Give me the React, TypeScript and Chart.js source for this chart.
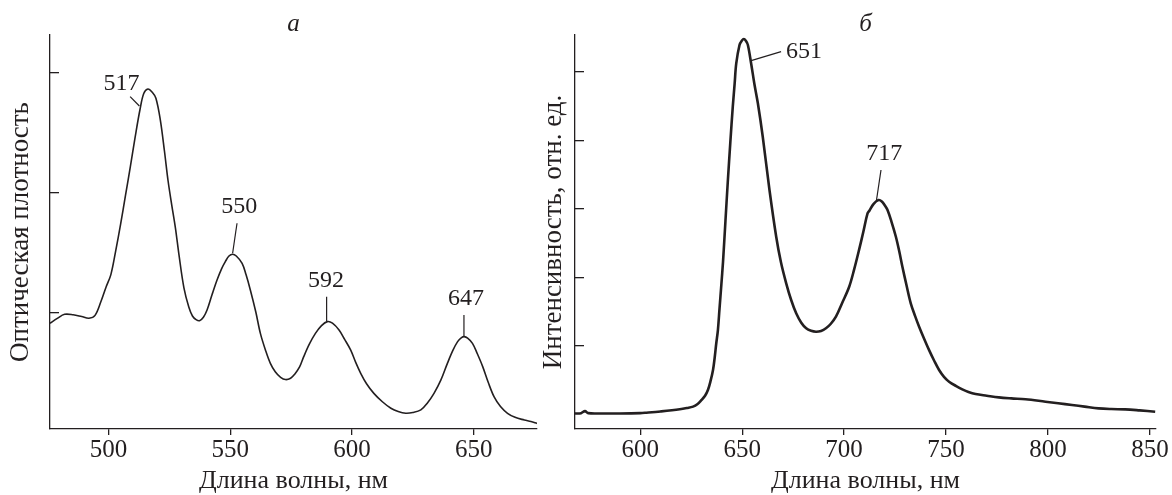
import { useEffect, useRef } from "react";
import { Chart, registerables } from "chart.js";

Chart.register(...registerables);

const INK = "#231f20";
const FONT = "'Liberation Serif', 'Times New Roman', Times, serif";

// ---- Panel a: absorption spectrum ----
const absWavelength = [
  476, 479, 482, 485.5, 489, 492, 494.5, 497, 499, 501, 503, 505, 507, 509, 511, 513, 514.5, 516.2, 518, 519.5,
  521.3, 523, 524.5, 526, 527.5, 529, 531, 533, 534.5, 536, 537.4, 539, 540.5, 542.5, 544.6, 546.5, 548, 549.5,
  551, 552.5, 554.9, 556.5, 558.3, 560.5, 562.4, 564.5, 566.5, 568.5, 570.7, 572.7, 574.8, 576.5, 578.5, 580.2,
  582.5, 585, 587.5, 589.9, 592, 594.7, 597, 599.5, 601.5, 603.6, 606, 609, 612.5, 616, 619, 622.1, 625, 628.3,
  631, 633.7, 636.5, 639.2, 641.5, 643.4, 645, 646.1, 647.5, 649.5, 651.5, 653.7, 656, 658.4, 661, 663.9, 667,
  670.8, 673.5, 676,
];
const absDensity = [
  0.2914, 0.2955, 0.2989, 0.2985, 0.297, 0.2956, 0.298, 0.31, 0.3215, 0.332, 0.352, 0.374, 0.398, 0.422, 0.447,
  0.47, 0.483, 0.4867, 0.484, 0.479, 0.461, 0.435, 0.41, 0.39, 0.371, 0.348, 0.321, 0.305, 0.2975, 0.2945, 0.2936,
  0.2965, 0.3025, 0.315, 0.3275, 0.337, 0.3428, 0.3475, 0.349, 0.3475, 0.3414, 0.332, 0.319, 0.301, 0.283, 0.269,
  0.258, 0.251, 0.2464, 0.2445, 0.2456, 0.249, 0.255, 0.2636, 0.274, 0.283, 0.2895, 0.2928, 0.2915, 0.2858,
  0.278, 0.269, 0.259, 0.2497, 0.241, 0.233, 0.226, 0.2206, 0.2178, 0.2164, 0.217, 0.2192, 0.225, 0.233, 0.244,
  0.258, 0.269, 0.2761, 0.2795, 0.2803, 0.279, 0.2747, 0.266, 0.2553, 0.242, 0.23, 0.222, 0.2164, 0.213, 0.2108,
  0.2095, 0.208,
];
const absXTicks = [500, 550, 600, 650];
const absYTicks = [0.3, 0.4, 0.5];
const absPeakLabels = ["517", "550", "592", "647"];
const absLabelX = [505.4, 553.7, 589.3, 646.8];
const absLabelY = [0.4913, 0.3883, 0.3267, 0.3119];
const absLeaderX1 = [508.9, 552.8, 589.6, 646];
const absLeaderY1 = [0.4803, 0.3748, 0.3136, 0.2983];
const absLeaderX2 = [512.7, 551, 589.6, 646];
const absLeaderY2 = [0.4725, 0.3498, 0.2928, 0.2803];

// ---- Panel б: luminescence spectrum ----
const lumWavelength = [
  568, 571, 572.9, 574.5, 580, 590, 600, 603, 610, 619.4, 623, 625.9, 628, 630, 631.8, 633.2, 634.5, 635.7, 636.5,
  637.3, 638.1, 638.9, 639.8, 640.6, 641.8, 643, 644.2, 645.4, 646.3, 647.1, 648.7, 649.8, 650.8, 651.8, 652.8,
  654.4, 656, 657.7, 660.1, 663.4, 666.7, 669, 671.6, 674, 676.5, 679, 681.4, 683.8, 686.2, 688.7, 691.1, 693.5,
  696, 699, 702.5, 705, 707.4, 709.5, 711.5, 712.4, 714.5, 716.9, 718.5, 720, 721.3, 723.3, 725.4, 727, 728.6,
  730.7, 732.7, 734.8, 736.8, 739.2, 741.7, 744.2, 746.6, 749, 751.5, 755, 758, 761, 764.5, 770, 775.9, 782, 789,
  798.8, 805, 811.8, 818, 824.8, 831, 837.9, 845, 852.6,
];
const lumIntensity = [
  0.003, 0.004, 0.01, 0.004, 0.003, 0.003, 0.004, 0.0053, 0.009, 0.0152, 0.019, 0.023, 0.03, 0.042, 0.055, 0.0715,
  0.098, 0.13, 0.165, 0.208, 0.2467, 0.31, 0.38, 0.445, 0.565, 0.6847, 0.795, 0.8987, 0.965, 1.025, 1.079, 1.091,
  1.0964, 1.091, 1.079, 1.025, 0.965, 0.9086, 0.811, 0.6555, 0.519, 0.445, 0.383, 0.335, 0.2955, 0.268, 0.2517,
  0.2445, 0.2418, 0.244, 0.2517, 0.265, 0.2856, 0.325, 0.373, 0.425, 0.482, 0.535, 0.587, 0.595, 0.615, 0.626,
  0.622, 0.61, 0.597, 0.562, 0.519, 0.478, 0.4315, 0.375, 0.3247, 0.288, 0.2564, 0.222, 0.188, 0.157, 0.13, 0.11,
  0.0958, 0.083, 0.0736, 0.066, 0.06, 0.055, 0.05, 0.047, 0.0444, 0.0374, 0.033, 0.0277, 0.023, 0.018, 0.016,
  0.015, 0.012, 0.0082,
];
const lumXTicks = [600, 650, 700, 750, 800, 850];
const lumYTicks = [0.2, 0.4, 0.6, 0.8, 1.0];
const lumPeakLabels = ["651", "717"];
const lumLabelX = [680.3, 719.7];
const lumLabelY = [1.0584, 0.7606];
const lumLeaderX1 = [669.1, 718.1];
const lumLeaderY1 = [1.0593, 0.7139];
const lumLeaderX2 = [654.4, 715.9];
const lumLeaderY2 = [1.033, 0.6263];

type PanelProps = {
  left: number;
  width: number;
  xs: number[];
  ys: number[];
  lineWidth: number;
  xMin: number;
  xMax: number;
  yMin: number;
  yMax: number;
  xTicks: number[];
  yTicks: number[];
  letter: string;
  yTitle: string;
  yWidth: number;
  yTitlePad: number;
  padRight: number;
  labels: string[];
  labelX: number[];
  labelY: number[];
  lx1: number[];
  ly1: number[];
  lx2: number[];
  ly2: number[];
};

function Panel(p: PanelProps) {
  const ref = useRef<HTMLCanvasElement>(null);
  useEffect(() => {
    const notes = {
      id: "peakNotes",
      afterDatasetsDraw(chart: any) {
        const { ctx } = chart;
        const x = chart.scales.x;
        const y = chart.scales.y;
        ctx.save();
        ctx.strokeStyle = INK;
        ctx.fillStyle = INK;
        ctx.lineWidth = 1.2;
        ctx.font = `24px ${FONT}`;
        ctx.textAlign = "center";
        ctx.textBaseline = "middle";
        p.labels.forEach((t, i) => {
          ctx.beginPath();
          ctx.moveTo(x.getPixelForValue(p.lx1[i]), y.getPixelForValue(p.ly1[i]));
          ctx.lineTo(x.getPixelForValue(p.lx2[i]), y.getPixelForValue(p.ly2[i]));
          ctx.stroke();
          ctx.fillText(t, x.getPixelForValue(p.labelX[i]), y.getPixelForValue(p.labelY[i]));
        });
        ctx.restore();
      },
    };
    const chart = new Chart(ref.current as HTMLCanvasElement, {
      type: "line",
      data: {
        datasets: [
          {
            data: p.xs.map((x, i) => ({ x, y: p.ys[i] })),
            borderColor: INK,
            borderWidth: p.lineWidth,
            pointRadius: 0,
            tension: 0.35,
            fill: false,
          },
        ],
      },
      options: {
        animation: false,
        responsive: false,
        devicePixelRatio: 1,
        layout: { padding: { left: 0, right: p.padRight, top: 10, bottom: 0 } },
        plugins: {
          legend: { display: false },
          tooltip: { enabled: false },
          title: {
            display: true,
            text: p.letter,
            fullSize: false,
            color: INK,
            font: { family: FONT, size: 25, style: "italic", weight: "normal", lineHeight: 1 },
            padding: { top: 1.5, bottom: -1.5 },
          },
        },
        scales: {
          x: {
            type: "linear",
            min: p.xMin,
            max: p.xMax,
            afterFit: (s: any) => {
              s.height = 66;
            },
            afterBuildTicks: (s: any) => {
              s.ticks = p.xTicks.map((v) => ({ value: v }));
            },
            grid: {
              display: true,
              drawOnChartArea: false,
              drawTicks: true,
              tickLength: 6,
              color: INK,
              lineWidth: 1.3,
            },
            border: { display: true, color: INK, width: 1.3 },
            ticks: {
              color: INK,
              font: { family: FONT, size: 25, lineHeight: 1 },
              padding: 3,
              maxRotation: 0,
              autoSkip: false,
            },
            title: {
              display: true,
              text: "Длина волны, нм",
              color: INK,
              font: { family: FONT, size: 26, lineHeight: 1 },
              padding: { top: 0, bottom: 0.5 },
            },
          },
          y: {
            type: "linear",
            min: p.yMin,
            max: p.yMax,
            afterFit: (s: any) => {
              s.width = p.yWidth;
            },
            afterBuildTicks: (s: any) => {
              s.ticks = p.yTicks.map((v) => ({ value: v }));
            },
            grid: {
              display: true,
              drawOnChartArea: false,
              drawTicks: true,
              tickLength: -9,
              color: INK,
              lineWidth: 1.3,
            },
            border: { display: true, color: INK, width: 1.3 },
            ticks: { display: false },
            title: {
              display: true,
              text: p.yTitle,
              color: INK,
              font: { family: FONT, size: 27, lineHeight: 1 },
              padding: { top: p.yTitlePad, bottom: 0 },
            },
          },
        },
      } as any,
      plugins: [notes],
    });
    return () => chart.destroy();
  }, []);
  return (
    <canvas
      ref={ref}
      width={p.width}
      height={495}
      style={{ position: "absolute", left: p.left, top: 0, width: p.width, height: 495, display: "block" }}
    />
  );
}

export default function App() {
  return (
    <div style={{ position: "absolute", left: 0, top: 0, width: 1172, height: 495, background: "#fff", overflow: "hidden" }}>
      <Panel
        left={0}
        width={540}
        xs={absWavelength}
        ys={absDensity}
        lineWidth={1.6}
        xMin={476}
        xMax={676}
        yMin={0.2033}
        yMax={0.5317}
        xTicks={absXTicks}
        yTicks={absYTicks}
        letter="а"
        yTitle="Оптическая плотность"
        yWidth={50}
        yTitlePad={7.5}
        padRight={3}
        labels={absPeakLabels}
        labelX={absLabelX}
        labelY={absLabelY}
        lx1={absLeaderX1}
        ly1={absLeaderY1}
        lx2={absLeaderX2}
        ly2={absLeaderY2}
      />
      <Panel
        left={517}
        width={655}
        xs={lumWavelength}
        ys={lumIntensity}
        lineWidth={2.6}
        xMin={568}
        xMax={853}
        yMin={-0.0423}
        yMax={1.108}
        xTicks={lumXTicks}
        yTicks={lumYTicks}
        letter="б"
        yTitle="Интенсивность, отн. ед."
        yWidth={58}
        yTitlePad={23.5}
        padRight={16}
        labels={lumPeakLabels}
        labelX={lumLabelX}
        labelY={lumLabelY}
        lx1={lumLeaderX1}
        ly1={lumLeaderY1}
        lx2={lumLeaderX2}
        ly2={lumLeaderY2}
      />
    </div>
  );
}
